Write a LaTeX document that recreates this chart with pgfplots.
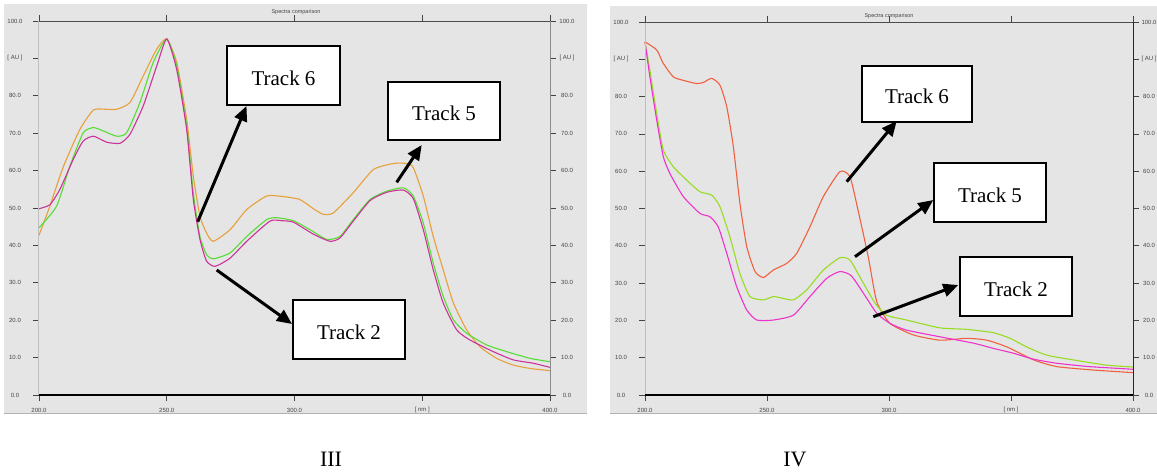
\documentclass[border=0pt]{standalone}
\usepackage{fontspec}
\setmainfont{Liberation Serif}
\setsansfont{Liberation Sans}
\usepackage{pgfplots}
\pgfplotsset{compat=1.18}
\usetikzlibrary{arrows.meta}
\definecolor{bg}{HTML}{E5E5E5}
\definecolor{lor}{HTML}{E8A03C}
\definecolor{lgr}{HTML}{55DD33}
\definecolor{lmg}{HTML}{CC3399}
\definecolor{ror}{HTML}{F06040}
\definecolor{rgr}{HTML}{99DD22}
\definecolor{rmg}{HTML}{EE33CC}
\definecolor{tk}{HTML}{444444}
\pgfplotsset{spec/.style={
  scale only axis, xmin=200, xmax=400, ymin=0, ymax=100,
  xtick={200,250,300,350,400},
  xticklabels={200.0,250.0,300.0,{[ nm ]},400.0},
  ytick={0,10,...,100},
  yticklabels={0.0,10.0,20.0,30.0,40.0,50.0,60.0,70.0,80.0,{[ AU ]},100.0},
  tick pos=both, tick align=outside, major tick length=6pt,
  tick style={tk, line width=0.7pt},
  axis line style={draw=none},
  ticklabel style={font=\sffamily\fontsize{6}{7}\selectfont, text=tk},
  xticklabel style={anchor=center, yshift=-9pt},
  yticklabel style={anchor=center, xshift=-18pt},
  every axis plot/.append style={line width=1.1pt, smooth, tension=0.35},
  clip=false,
}}
\tikzset{arr/.style={line width=3pt, -{Triangle[length=15pt,width=13pt]}},
  tbox/.style={fill=white, draw=black, line width=2.5pt},
  tlab/.style={font=\fontsize{21}{24}\selectfont},
  rlab/.style={font=\sffamily\fontsize{6}{7}\selectfont, text=tk}}
\begin{document}
\begin{tikzpicture}
\path[use as bounding box] (0pt,0pt) rectangle (1157pt,-472pt);
\fill[bg] (4pt,-4pt) rectangle (587pt,-413pt);
\draw[black!30, line width=1pt] (4pt,-413pt) -- (587pt,-413pt);
\fill[bg] (610pt,-6pt) rectangle (1160pt,-413pt);
\draw[black!30, line width=1pt] (610pt,-413pt) -- (1160pt,-413pt);

% ---------- Panel III ----------
\begin{axis}[spec, at={(39pt,-395pt)}, anchor=south west, width=511pt, height=374pt]
\addplot[lor] table {
200 42.7
204 50
209.5 61
216 71
221.3 76.2
226 76.4
230.4 76.4
235.6 78.2
240.8 85.3
246.1 92.5
250 95.2
253.9 88.9
257.8 73.7
260.4 58.5
263 47.8
265.6 43.3
268.2 41.1
274.8 44.2
281.3 49.6
289.1 53.2
295 53.1
302 52.3
307.4 49.8
311.3 48.3
315.2 48.7
323 54.1
330.9 60.3
338.7 61.9
343.9 61.9
346.5 60.8
350.4 53.2
354.3 42.4
358.2 33.5
362.2 24.6
367.4 17.4
372.6 12.9
379.1 9.8
385.6 8.0
392.2 7.1
400 6.5
};
\addplot[lgr] table {
200 44.7
206.9 50.5
212.1 61.2
217.3 70.1
221.3 71.5
225.2 70.6
230.4 69.2
234.3 70.1
239.5 78.2
244.7 88.9
250 95.2
253.9 88
257.8 71.9
260.4 54
263 42.4
265.6 37.5
268.2 36.4
274.8 38
281.3 42.4
289.1 46.9
293 47.4
299.6 46.6
306.1 44.2
312.6 41.6
317.8 42.4
323 46.9
329.6 52.3
336.1 54.5
342.6 55.4
346.5 53.2
350.4 46
354.3 35.3
358.2 26.4
362.2 20.1
367.4 16.5
375.2 13.4
383 11.6
392.2 9.8
400 8.9
};
\addplot[lmg] table {
200 49.8
204.3 50.9
208.2 55
213.4 63
217.3 67.9
221.3 69.2
226.5 67.6
231.7 67.3
235.6 69.7
240.8 77.3
246.1 88
250 95.2
253.9 87
257.8 71
260.4 52.3
263 41.6
265.6 35.8
268.9 34.4
274.8 36.6
281.3 41.1
290.4 46.5
295 46.6
299.6 46.2
307.4 43
313.9 41.1
317.8 42
323 46.5
329.6 52
336.1 54.2
342.6 54.8
346.5 52.5
350.4 44.2
354.3 33.5
358.2 24.6
363.5 17.4
368.7 14.7
377.8 11.6
385.6 9.4
393.4 8.5
400 7.4
};
\draw[black!25, line width=1pt] (rel axis cs:0,0) -- (rel axis cs:0,1);
\draw[black!45, line width=1pt] (rel axis cs:1,0) -- (rel axis cs:1,1);
\draw[black!70, line width=1pt] (rel axis cs:0,1) -- (rel axis cs:1,1);
\draw[black, line width=1.4pt] (rel axis cs:0,0) -- (rel axis cs:1,0);
\end{axis}
\foreach \v/\l in {0/0.0,10/10.0,20/20.0,30/30.0,40/40.0,50/50.0,60/60.0,70/70.0,80/80.0,90/{[ AU ]},100/100.0}
  \node[rlab] at (567pt,{(3.74*\v-395)*1pt}) {\l};
\node[font=\sffamily\fontsize{5.5}{6}\selectfont, text=tk] at (296pt,-12pt) {Spectra comparison};

% ---------- Panel IV ----------
\begin{axis}[spec, at={(645pt,-395pt)}, anchor=south west, width=488pt, height=373pt]
\addplot[ror] table {
200 94.7
204.8 92.5
207.5 88.9
211.6 85.3
216 84.3
221.2 83.5
224 83.8
227.3 84.9
230.7 83.1
233.5 77.3
236.2 66.6
238.9 51.4
241.7 39.8
245.1 33.1
248.5 31.5
252.6 33.5
258.1 35.3
262.2 38
267.6 45.1
273.1 53.2
279.9 59.9
284 58.5
287.5 49
291.5 37
295 25
300.4 19.2
310 16.1
320.9 14.7
331.9 15.2
340.1 14.7
348.3 12.9
359.3 9.4
368.9 7.6
383.7 6.7
400 6.0
};
\addplot[rgr] table {
200 94.7
202 87.1
204.8 75.5
207.5 65.7
211.6 61.2
217.1 57.6
222.5 54.5
227.3 53.6
230.7 50.5
234.8 42.4
238.9 32.6
243 26.4
248.5 25.5
252.6 26.4
256 26
260.8 25.5
266.3 28.2
273.1 33.5
279.9 36.8
284 36.2
288.8 30.8
294.3 24.6
299 21.4
307.2 20.1
320.9 18
331.9 17.6
342.8 16.7
349.6 15.2
356.4 12.9
364.6 10.7
375.6 9.4
389.3 8
400 7.5
};
\addplot[rmg] table {
200 94.7
202 85.3
204.8 73.7
207.5 63.9
210.2 59.4
215.7 53.2
222.5 48.7
226.6 47.8
230 45.1
233.5 38
237.6 29
241.7 22.8
245.8 20.1
252.6 20.1
260.8 21.4
267.6 26.4
274.5 31.3
279.9 33.1
284.5 32
290 26.8
295 21.9
300.4 19.2
307.2 17.4
320.9 15.6
334.6 13.9
342.8 12.5
351 11.2
359.3 9.6
368.9 8.5
382.4 7.6
400 6.9
};
\draw[black!25, line width=1pt] (rel axis cs:0,0) -- (rel axis cs:0,1);
\draw[black!85, line width=1pt] (rel axis cs:1,0) -- (rel axis cs:1,1);
\draw[black!70, line width=1pt] (rel axis cs:0,1) -- (rel axis cs:1,1);
\draw[black, line width=1.4pt] (rel axis cs:0,0) -- (rel axis cs:1,0);
\end{axis}
\foreach \v/\l in {0/0.0,10/10.0,20/20.0,30/30.0,40/40.0,50/50.0,60/60.0,70/70.0,80/80.0,90/{[ AU ]},100/100.0}
  \node[rlab] at (1149pt,{(3.73*\v-395)*1pt}) {\l};
\node[font=\sffamily\fontsize{5.5}{6}\selectfont, text=tk] at (889pt,-16pt) {Spectra comparison};

% ---------- annotations III ----------
\draw[arr] (197.7pt,-221.7pt) -- (246.5pt,-106pt);
\draw[arr] (396.7pt,-182.3pt) -- (421.7pt,-145pt);
\draw[arr] (216.7pt,-270pt) -- (292pt,-324pt);
\draw[tbox] (227pt,-46pt) rectangle (340pt,-105pt);
\node[tlab] at (283.5pt,-78pt) {Track 6};
\draw[tbox] (388pt,-82pt) rectangle (500pt,-140pt);
\node[tlab] at (444pt,-113pt) {Track 5};
\draw[tbox] (293pt,-300pt) rectangle (405pt,-359pt);
\node[tlab] at (349pt,-332pt) {Track 2};

% ---------- annotations IV ----------
\draw[arr] (846.7pt,-181.7pt) -- (896.7pt,-121pt);
\draw[arr] (855pt,-256.7pt) -- (933.3pt,-200pt);
\draw[arr] (873.3pt,-316.7pt) -- (958.3pt,-285pt);
\draw[tbox] (862pt,-66pt) rectangle (972pt,-122pt);
\node[tlab] at (917pt,-96pt) {Track 6};
\draw[tbox] (934pt,-163pt) rectangle (1046pt,-222pt);
\node[tlab] at (990pt,-195pt) {Track 5};
\draw[tbox] (960pt,-257pt) rectangle (1072pt,-316pt);
\node[tlab] at (1016pt,-289pt) {Track 2};

% ---------- captions ----------
\node[font=\fontsize{22}{26}\selectfont] at (331pt,-459pt) {III};
\node[font=\fontsize{22}{26}\selectfont] at (795pt,-459pt) {IV};
\end{tikzpicture}
\end{document}
